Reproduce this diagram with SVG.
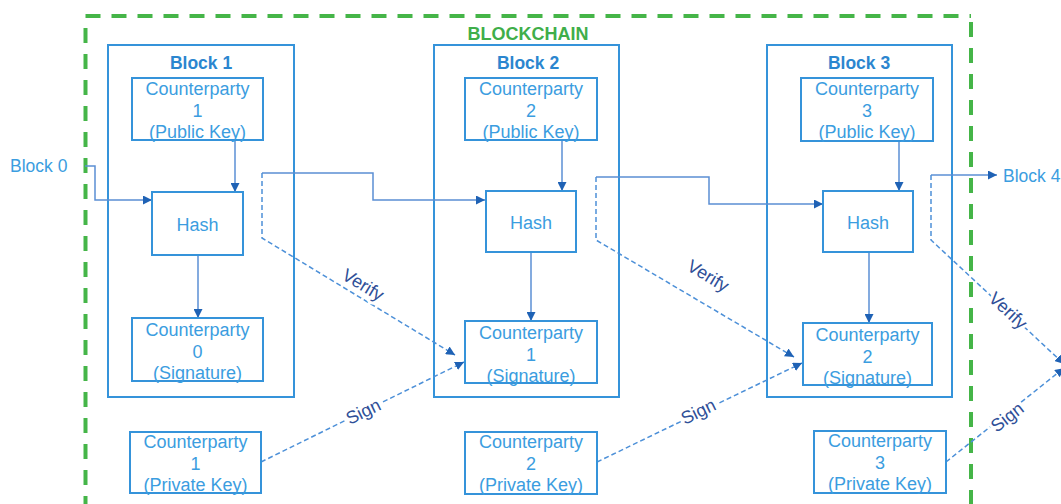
<svg xmlns="http://www.w3.org/2000/svg" width="1061" height="504" viewBox="0 0 1061 504">
<defs>
<style>
.bg{fill:#ffffff}
.frame{fill:none;stroke:#45b548;stroke-width:4;stroke-dasharray:15 11}
.ttl{font-family:"Liberation Sans",Arial,sans-serif;font-weight:bold;font-size:18px;fill:#3fae4a;text-anchor:middle}
.blk{fill:none;stroke:#3593da;stroke-width:2}
.box{fill:#ffffff;stroke:#3593da;stroke-width:2}
.bt{font-family:"Liberation Sans",Arial,sans-serif;font-weight:bold;font-size:17.5px;fill:#2b86cf;text-anchor:middle}
.t{font-family:"Liberation Sans",Arial,sans-serif;font-size:18px;fill:#3b9de0;text-anchor:middle}
.ext{font-family:"Liberation Sans",Arial,sans-serif;font-size:17.5px;fill:#3b9de0}
.sol{fill:none;stroke:#5b8fd4;stroke-width:1.5;marker-end:url(#ah)}
.dsh{fill:none;stroke:#4d90d8;stroke-width:1.5;stroke-dasharray:5 3;marker-end:url(#ah)}
.lbl{font-family:"Liberation Sans",Arial,sans-serif;font-size:18px;fill:#2f4f98;text-anchor:middle;stroke:#ffffff;stroke-width:6;paint-order:stroke;stroke-linejoin:round}
</style>
<marker id="ah" viewBox="0 0 10 10" refX="10" refY="5" markerWidth="9" markerHeight="9" markerUnits="userSpaceOnUse" orient="auto">
<path d="M0,0 L10,5 L0,10 z" fill="#1f62b5"/>
</marker>
</defs>
<rect class="bg" x="0" y="0" width="1061" height="504"/>

<g id="blockchain">
<path class="frame" d="M85.5,16 H971"/>
<path class="frame" d="M85.5,28 V504"/>
<path class="frame" d="M971,22 V504"/>
<text class="ttl" x="528" y="39.5">BLOCKCHAIN</text>
</g>

<g id="block1">
<rect class="blk" x="108" y="45" width="186" height="352"/>
<text class="bt" x="201" y="69">Block 1</text>
</g>
<g id="block2">
<rect class="blk" x="434" y="45" width="185" height="352"/>
<text class="bt" x="528" y="69">Block 2</text>
</g>
<g id="block3">
<rect class="blk" x="767" y="45" width="185" height="352"/>
<text class="bt" x="859" y="69">Block 3</text>
</g>

<g id="connectors">
<path class="sol" d="M85,166 H95 V200 H152"/>
<path class="sol" d="M235,140 V192"/>
<path class="sol" d="M198,255 V318"/>
<path class="sol" d="M262,173 H373 V200 H485"/>
<path class="dsh" d="M262,173 V238 L455,355"/>
<path class="dsh" d="M261,462 L464,362"/>
<path class="sol" d="M562,140 V191"/>
<path class="sol" d="M531,252 V321"/>
<path class="sol" d="M596,177 H709 V204 H823"/>
<path class="dsh" d="M596,177 V240 L794,357"/>
<path class="dsh" d="M597,462 L802,363"/>
<path class="sol" d="M899,141 V191"/>
<path class="sol" d="M869,252 V323"/>
<path class="sol" d="M931,175 H997"/>
<path class="dsh" d="M931,175 V240 L1064,364"/>
<path class="dsh" d="M946,462 L1064,368"/>
<text class="lbl" transform="translate(360,290) rotate(31)">Verify</text>
<text class="lbl" transform="translate(705,281) rotate(31)">Verify</text>
<text class="lbl" transform="translate(1004,315) rotate(43)">Verify</text>
<text class="lbl" transform="translate(366,417) rotate(-26)">Sign</text>
<text class="lbl" transform="translate(701,417) rotate(-26)">Sign</text>
<text class="lbl" transform="translate(1011,422) rotate(-38)">Sign</text>
</g>

<g id="block0-label"><text class="ext" x="10" y="172">Block 0</text></g>
<g id="block4-label"><text class="ext" x="1003" y="182">Block 4</text></g>

<g id="cp1-pub">
<rect class="box" x="132" y="78" width="131" height="62"/>
<text class="t" x="197.5" y="95">Counterparty</text>
<text class="t" x="197.5" y="116.5">1</text>
<text class="t" x="197.5" y="138">(Public Key)</text>
</g>
<g id="hash1">
<rect class="box" x="152" y="192" width="91" height="63"/>
<text class="t" x="197.5" y="231">Hash</text>
</g>
<g id="cp0-sig">
<rect class="box" x="132" y="318" width="131" height="63"/>
<text class="t" x="197.5" y="336">Counterparty</text>
<text class="t" x="197.5" y="357.5">0</text>
<text class="t" x="197.5" y="379">(Signature)</text>
</g>
<g id="cp1-priv">
<rect class="box" x="130" y="432" width="131" height="61"/>
<text class="t" x="195.5" y="448">Counterparty</text>
<text class="t" x="195.5" y="469.5">1</text>
<text class="t" x="195.5" y="491">(Private Key)</text>
</g>

<g id="cp2-pub">
<rect class="box" x="465" y="78" width="132" height="62"/>
<text class="t" x="531" y="95">Counterparty</text>
<text class="t" x="531" y="116.5">2</text>
<text class="t" x="531" y="138">(Public Key)</text>
</g>
<g id="hash2">
<rect class="box" x="486" y="191" width="90" height="61"/>
<text class="t" x="531" y="229">Hash</text>
</g>
<g id="cp1-sig">
<rect class="box" x="465" y="321" width="132" height="62"/>
<text class="t" x="531" y="339">Counterparty</text>
<text class="t" x="531" y="360.5">1</text>
<text class="t" x="531" y="382">(Signature)</text>
</g>
<g id="cp2-priv">
<rect class="box" x="465" y="432" width="132" height="62"/>
<text class="t" x="531" y="448">Counterparty</text>
<text class="t" x="531" y="469.5">2</text>
<text class="t" x="531" y="491">(Private Key)</text>
</g>

<g id="cp3-pub">
<rect class="box" x="801" y="78" width="132" height="63"/>
<text class="t" x="867" y="95">Counterparty</text>
<text class="t" x="867" y="116.5">3</text>
<text class="t" x="867" y="138">(Public Key)</text>
</g>
<g id="hash3">
<rect class="box" x="823" y="191" width="90" height="61"/>
<text class="t" x="868" y="229">Hash</text>
</g>
<g id="cp2-sig">
<rect class="box" x="803" y="323" width="129" height="62"/>
<text class="t" x="867.5" y="341">Counterparty</text>
<text class="t" x="867.5" y="362.5">2</text>
<text class="t" x="867.5" y="384">(Signature)</text>
</g>
<g id="cp3-priv">
<rect class="box" x="814" y="431" width="132" height="62"/>
<text class="t" x="880" y="447">Counterparty</text>
<text class="t" x="880" y="468.5">3</text>
<text class="t" x="880" y="490">(Private Key)</text>
</g>
</svg>
